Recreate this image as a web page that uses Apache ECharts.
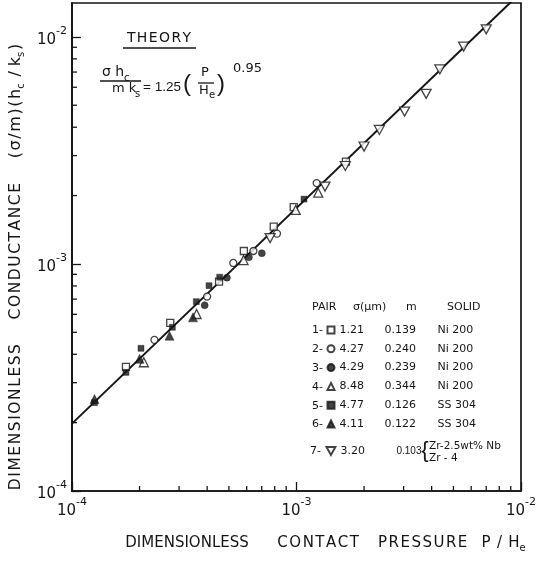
<!DOCTYPE html>
<html><head><meta charset="utf-8">
<script src="https://cdn.jsdelivr.net/npm/echarts@6/dist/echarts.min.js"></script>
<style>html,body{margin:0;padding:0;background:#fff}#c{width:547px;height:561px}</style>
</head><body><div id="c"></div>
<script>
// ---- data ----
const pair1X = [1.74e-4, 2.74e-4, 4.52e-4, 5.83e-4, 7.92e-4, 9.72e-4, 1.66e-3];
const pair1Y = [3.52e-4, 5.50e-4, 8.36e-4, 1.14e-3, 1.46e-3, 1.78e-3, 2.82e-3];
const pair2X = [2.33e-4, 4.00e-4, 5.23e-4, 6.43e-4, 8.19e-4, 1.23e-3];
const pair2Y = [4.63e-4, 7.18e-4, 1.01e-3, 1.14e-3, 1.36e-3, 2.27e-3];
const pair3X = [3.90e-4, 4.90e-4, 6.14e-4, 7.01e-4];
const pair3Y = [6.58e-4, 8.70e-4, 1.07e-3, 1.115e-3];
const pair4X = [2.09e-4, 3.59e-4, 5.81e-4, 9.92e-4, 1.25e-3];
const pair4Y = [3.69e-4, 6.02e-4, 1.04e-3, 1.73e-3, 2.06e-3];
const pair5X = [1.26e-4, 1.74e-4, 2.03e-4, 2.80e-4, 3.58e-4, 4.08e-4, 4.55e-4, 1.08e-3];
const pair5Y = [2.45e-4, 3.33e-4, 4.25e-4, 5.26e-4, 6.82e-4, 8.02e-4, 8.74e-4, 1.93e-3];
const pair6X = [1.26e-4, 2.00e-4, 2.72e-4, 3.46e-4];
const pair6Y = [2.54e-4, 3.82e-4, 4.83e-4, 5.82e-4];
const pair7X = [7.63e-4, 1.34e-3, 1.65e-3, 2.00e-3, 2.34e-3, 3.03e-3, 3.78e-3, 4.35e-3, 5.55e-3, 7.00e-3];
const pair7Y = [1.30e-3, 2.19e-3, 2.70e-3, 3.29e-3, 3.89e-3, 4.69e-3, 5.61e-3, 7.19e-3, 9.06e-3, 1.08e-2];
const theoryX = [1e-4, 1e-2];
const theoryY = [1.98e-4, 1.57e-2];

const pairNames = ['1', '2', '3', '4', '5', '6', '7'];
const pairSigma = ['1.21', '4.27', '4.29', '8.48', '4.77', '4.11', '3.20'];
const pairM = ['0.139', '0.240', '0.239', '0.344', '0.126', '0.122', '0.103'];
const pairSolid = ['Ni 200', 'Ni 200', 'Ni 200', 'Ni 200', 'SS 304', 'SS 304', ''];

const xMinorTicks = [2e-4, 3e-4, 4e-4, 5e-4, 6e-4, 7e-4, 8e-4, 9e-4, 2e-3, 3e-3, 4e-3, 5e-3, 6e-3, 7e-3, 8e-3, 9e-3];
const yMinorTicks = [2e-4, 3e-4, 4e-4, 5e-4, 6e-4, 7e-4, 8e-4, 9e-4, 2e-3, 3e-3, 4e-3, 5e-3, 6e-3, 7e-3, 8e-3, 9e-3];
const xMin = 1e-4, xMax = 1e-2, yMin = 1e-4, yMax = 0.0141;

// ---- styling ----
const INK = '#151515';
const FONT = 'DejaVu Sans';
const FONT2 = 'Liberation Sans';
const zip = (xs, ys) => xs.map((x, i) => [x, ys[i]]);
const openStyle = { color: '#fff', borderColor: INK, borderWidth: 1.3 };
const fillStyle = { color: INK, borderColor: INK, borderWidth: 0.5 };
const downTri = 'path://M0,0L10,0L5,9Z';
const HS = '\u200a';
const spaced = s => s.split('').join(HS);

function scatter(name, xs, ys, symbol, size, style) {
  return { name, type: 'scatter', data: zip(xs, ys), symbol, symbolSize: size,
    itemStyle: style, z: 4, emphasis: { disabled: true } };
}
function tickSeries(vals, dir) {
  return {
    type: 'custom', silent: true, z: 6, clip: false,
    data: vals.map(v => dir === 'x' ? [v, yMin] : [xMin, v]),
    renderItem: (params, api) => {
      const p = api.coord([api.value(0), api.value(1)]);
      const len = 5;
      const shape = dir === 'x'
        ? { x1: p[0], y1: p[1], x2: p[0], y2: p[1] - len }
        : { x1: p[0], y1: p[1], x2: p[0] + len, y2: p[1] };
      return { type: 'line', shape, style: { stroke: INK, lineWidth: 1.3 } };
    }
  };
}
const powLabel = v => {
  const e = Math.log10(v);
  if (Math.abs(e - Math.round(e)) > 1e-6) return '';
  return '{b|10}{e|' + Math.round(e) + '}';
};
const powRich = {
  b: { fontSize: 15, fontFamily: FONT, color: INK, lineHeight: 22, verticalAlign: 'bottom' },
  e: { fontSize: 11, fontFamily: FONT, color: INK, lineHeight: 22, verticalAlign: 'top' }
};

const legendRow = name => {
  const i = pairNames.indexOf(name);
  return '{s|' + pairSigma[i] + '}{m|' + pairM[i] + '}{d|' + pairSolid[i] + '}';
};
const legendRich = {
  s: { width: 45, fontSize: 11, fontFamily: FONT, color: INK },
  m: { width: 53, fontSize: 11, fontFamily: FONT, color: INK },
  d: { fontSize: 11, fontFamily: FONT, color: INK }
};

const txt = (text, x, y, size, align, valign, fam) => ({
  type: 'text', x, y, silent: true,
  style: { text, font: size + 'px "' + (fam || FONT) + '"', fill: INK, align: align || 'left', verticalAlign: valign || 'middle' }
});
const ln = (x1, y1, x2, y2, w) => ({ type: 'line', silent: true,
  shape: { x1, y1, x2, y2 }, style: { stroke: INK, lineWidth: w || 1.3 } });

const yTitle = '{t|' + spaced('DIMENSIONLESS') + '     ' + spaced('CONDUCTANCE') + '     }' +
  '{u|' + spaced('(σ/m)(h') + '}{s|c}{u|' + HS + ' / ' + spaced('k') + '}{s|s}{u|' + HS + ')}';

const chart = echarts.init(document.getElementById('c'), null, { renderer: 'canvas' });
chart.setOption({
  backgroundColor: '#fff',
  animation: false,
  grid: { left: 70, right: 26, top: 3, bottom: 70, show: true, borderColor: INK, borderWidth: 1.7, backgroundColor: 'transparent' },
  xAxis: {
    type: 'log', logBase: 10, min: xMin, max: xMax,
    name: 'DIMENSIONLESS      ' + spaced('CONTACT') + '    ' + spaced('PRESSURE') + '   P ' + HS + '/' + HS + ' H{s|e}',
    nameLocation: 'middle', nameGap: 42,
    nameTextStyle: { fontSize: 15, fontFamily: FONT, color: INK, padding: [0, 0, 0, 58],
      rich: { s: { fontSize: 10, fontFamily: FONT, color: INK, verticalAlign: 'bottom', lineHeight: 20 } } },
    axisLine: { show: true, lineStyle: { color: INK, width: 1.6 } },
    axisTick: { show: true, inside: true, length: 9, lineStyle: { color: INK, width: 1.3 } },
    axisLabel: { formatter: powLabel, rich: powRich, margin: 6, showMaxLabel: true, showMinLabel: true },
    splitLine: { show: false }, minorTick: { show: false }
  },
  yAxis: {
    type: 'log', logBase: 10, min: yMin, max: yMax,
    name: yTitle,
    nameLocation: 'middle', nameGap: 36,
    nameTextStyle: { fontSize: 15.5, fontFamily: FONT, color: INK, padding: [0, 40, 0, 0],
      rich: { t: { fontSize: 15.5, fontFamily: FONT, color: INK, lineHeight: 20 },
              u: { fontSize: 16, fontFamily: FONT, color: INK, lineHeight: 20 },
              s: { fontSize: 10, fontFamily: FONT, color: INK, verticalAlign: 'bottom', lineHeight: 20 } } },
    axisLine: { show: true, lineStyle: { color: INK, width: 1.8 } },
    axisTick: { show: true, inside: true, length: 9, lineStyle: { color: INK, width: 1.3 } },
    axisLabel: { formatter: powLabel, rich: powRich, margin: 5, showMaxLabel: false },
    splitLine: { show: false }, minorTick: { show: false }
  },
  legend: [
    { data: pairNames.slice(0, 6), orient: 'vertical', left: 326.5, top: 323, padding: 0,
      itemWidth: 7, itemHeight: 7, itemGap: 4.8, itemTextGap: 14.5, selectedMode: false, formatter: legendRow,
      textStyle: { fontSize: 11, fontFamily: FONT, color: INK, lineHeight: 14, rich: legendRich } },
    { data: ['7'], orient: 'vertical', left: 325.5, top: 444, padding: 0,
      itemWidth: 9, itemHeight: 8, itemTextGap: 8, selectedMode: false,
      formatter: () => '{s|' + pairSigma[6] + '}{m|' + pairM[6] + '}',
      textStyle: { fontSize: 11, fontFamily: FONT, color: INK, lineHeight: 14,
        rich: { s: { width: 56, fontSize: 11, fontFamily: FONT, color: INK },
                m: { fontSize: 10, fontFamily: FONT2, color: INK } } } }
  ],
  series: [
    { name: 'theory', type: 'line', data: zip(theoryX, theoryY), showSymbol: false, clip: true,
      lineStyle: { color: INK, width: 2 }, z: 3, silent: true },
    scatter('1', pair1X, pair1Y, 'rect', 7, openStyle),
    scatter('2', pair2X, pair2Y, 'circle', 7, openStyle),
    scatter('3', pair3X, pair3Y, 'circle', 7, fillStyle),
    scatter('4', pair4X, pair4Y, 'triangle', 9, openStyle),
    scatter('5', pair5X, pair5Y, 'rect', 6, fillStyle),
    scatter('6', pair6X, pair6Y, 'triangle', 9, fillStyle),
    scatter('7', pair7X, pair7Y, downTri, [10, 9], openStyle),
    tickSeries(xMinorTicks, 'x'),
    tickSeries(yMinorTicks, 'y')
  ],
  graphic: [
    txt(spaced('THEORY'), 159, 38, 14, 'center'),
    ln(123, 48, 196, 48, 1.5),
    txt('σ h', 102, 79, 14, 'left', 'bottom'),
    txt('c', 124, 83, 10, 'left', 'bottom'),
    ln(100, 81, 141, 81, 1.3),
    txt('m k', 112, 95, 13, 'left', 'bottom'),
    txt('s', 135, 99, 10, 'left', 'bottom'),
    txt('= 1.25', 143, 87, 13.5, 'left', 'middle', FONT2),
    txt('(', 187, 84, 24, 'center', 'middle', FONT2),
    txt('P', 205, 79, 13, 'center', 'bottom'),
    ln(198, 83, 214, 83, 1.3),
    txt('H', 199, 97, 13, 'left', 'bottom'),
    txt('e', 209, 100, 10, 'left', 'bottom'),
    txt(')', 221, 84, 24, 'center', 'middle', FONT2),
    txt('0.95', 233, 69, 13, 'left', 'middle'),
    txt('PAIR', 312, 307, 11),
    txt('σ(μm)', 353, 307, 11),
    txt('m', 406, 307, 11),
    txt('SOLID', 447, 307, 11),
    txt('1-', 312, 330, 11), txt('2-', 312, 349, 11), txt('3-', 312, 368, 11),
    txt('4-', 312, 387, 11), txt('5-', 312, 406, 11), txt('6-', 312, 424, 11),
    txt('7-', 310, 451, 11),
    txt('{', 425, 451, 22, 'center', 'middle', FONT2),
    txt('Zr-2.5wt% Nb', 429, 446, 10.5),
    txt('Zr - 4', 429, 458, 10.5)
  ]
});
</script>
</body></html>
